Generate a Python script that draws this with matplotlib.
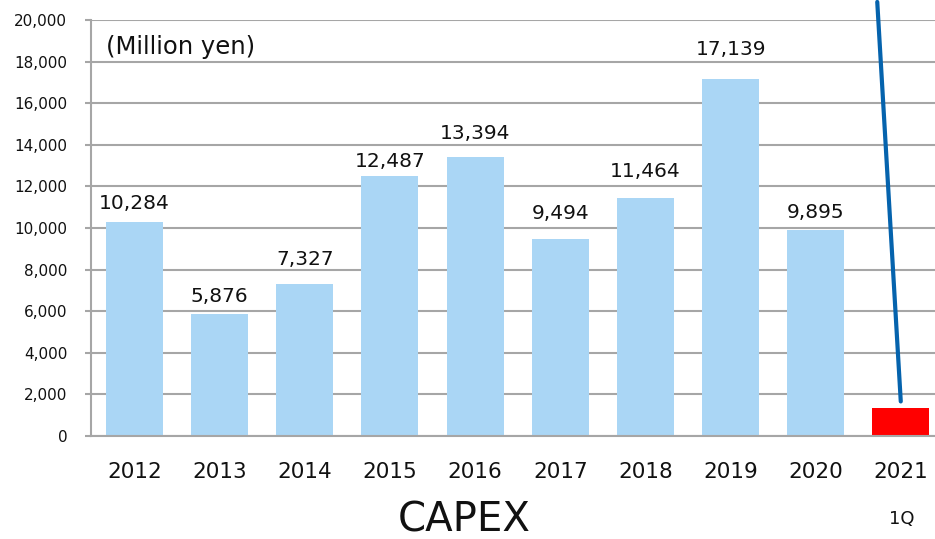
import matplotlib.pyplot as plt

years = ["2012", "2013", "2014", "2015", "2016", "2017", "2018", "2019", "2020", "2021"]
capex = [10284, 5876, 7327, 12487, 13394, 9494, 11464, 17139, 9895, 1330]
value_labels = ["10,284", "5,876", "7,327", "12,487", "13,394", "9,494", "11,464", "17,139", "9,895", ""]
bar_colors = ["#aad6f5"] * 9 + ["#ff0000"]
# gap between bar top and its label, in pixels (labels were placed by hand)
label_gap = [13, 12, 19, 9, 18, 20, 21, 24, 12, 0]

fig = plt.figure(figsize=(9.35, 5.39), dpi=100)
ax = fig.add_axes([0.0973, 0.191, 0.9027, 0.772])

x = list(range(len(years)))
ax.bar(x, capex, width=0.67, color=bar_colors, zorder=2)

for i, (v, lab, g) in enumerate(zip(capex, value_labels, label_gap)):
    if lab:
        ax.annotate(lab, (i, v), xytext=(0, g * 0.72), textcoords="offset points",
                    ha="center", va="baseline", fontsize=14.5, color="#111111")

ax.set_xlim(-0.51, 9.4)
ax.set_ylim(0, 20000)
ax.set_yticks(range(0, 20001, 2000))
ax.set_yticklabels([f"{t:,}" for t in range(0, 20001, 2000)])
ax.set_xticks(x)
ax.set_xticklabels(years)

ax.yaxis.grid(True, color="#a6a6a6", linewidth=1.5, zorder=1)
ax.set_axisbelow(True)
for s in ["top", "right"]:
    ax.spines[s].set_visible(False)
for s in ["left", "bottom"]:
    ax.spines[s].set_color("#a6a6a6")
    ax.spines[s].set_linewidth(1.5)

ax.tick_params(axis="y", length=4, width=1.5, color="#a6a6a6", pad=13,
               labelsize=11, labelcolor="#111111")
ax.tick_params(axis="x", length=0, pad=19, labelsize=15.5, labelcolor="#111111")

ax.text(0.018, 0.935, "(Million yen)", transform=ax.transAxes, fontsize=17.5,
        ha="left", va="center", color="#111111")

# pointer line to the 2021 1Q bar
ax.annotate("", xy=(9, capex[-1] + 200), xytext=(8.72, 21000),
            arrowprops=dict(arrowstyle="-", color="#0563ad", lw=3),
            annotation_clip=False, zorder=3)

fig.text(0.4963, 0.035, "CAPEX", fontsize=29, ha="center", va="center", color="#111111")
fig.text(0.9647, 0.038, "1Q", fontsize=13, ha="center", va="center", color="#111111")

fig.savefig("out.png", dpi=100)
